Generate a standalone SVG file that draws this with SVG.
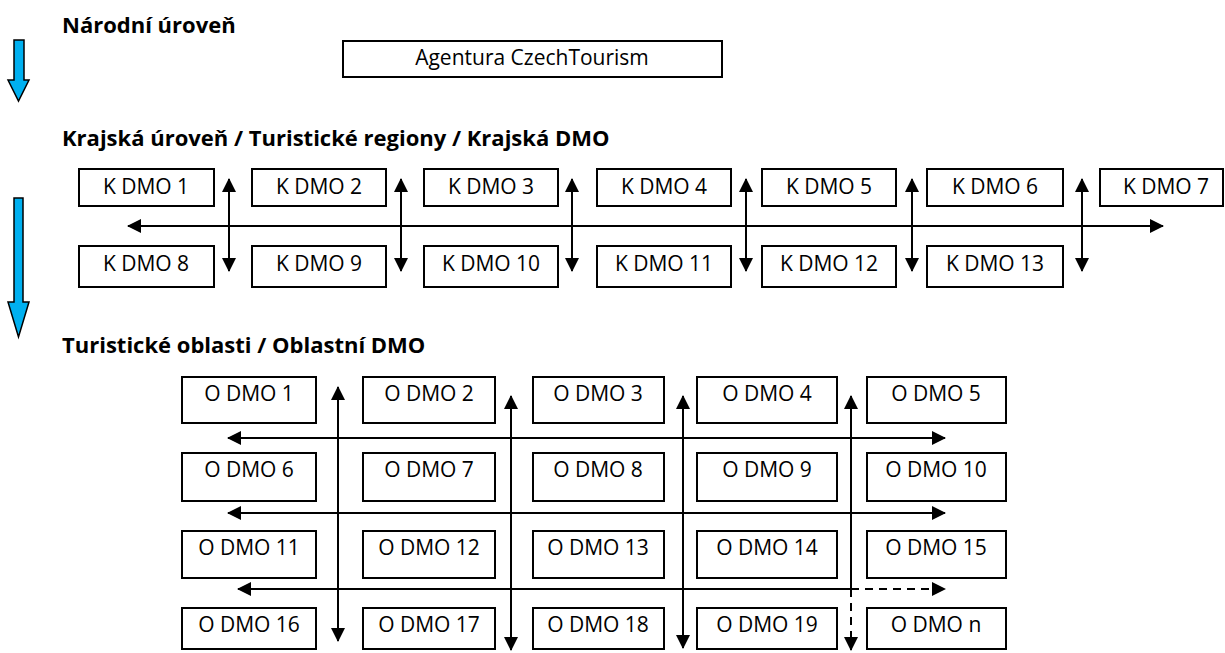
<svg xmlns="http://www.w3.org/2000/svg" width="1225" height="653" viewBox="0 0 1225 653">
<style>
.h{font-family:"Open Sans","Liberation Sans",sans-serif;font-weight:bold;font-size:22px;fill:#000}
.t{font-family:"Open Sans","Liberation Sans",sans-serif;font-size:21px;fill:#000;text-anchor:middle}
.b{fill:#fff;stroke:#000;stroke-width:2}
.c{fill:none;stroke:#000;stroke-width:2}
.d{fill:none;stroke:#000;stroke-width:2;stroke-dasharray:8 6}
.blue{fill:#00B0F0;stroke:#000;stroke-width:1.5}
</style>
<defs>
<marker id="a" viewBox="0 0 14 14" refX="13" refY="7" markerWidth="14" markerHeight="14" markerUnits="userSpaceOnUse" orient="auto-start-reverse">
<path d="M0,0 L14,7 L0,14 z" fill="#000"/>
</marker>
</defs>
<rect width="1225" height="653" fill="#fff"/>
<g id="headings">
<text class="h" x="62" y="33">Národní úroveň</text>
<text class="h" x="62" y="146">Krajská úroveň / Turistické regiony / Krajská DMO</text>
<text class="h" x="62" y="353">Turistické oblasti / Oblastní DMO</text>
</g>
<g id="level-arrows">
<path class="blue" d="M14,40 H24 V80 H29 L18.5,101 L8,80 H14 Z"/>
<path class="blue" d="M14,198 H23 V302 H29 L18.5,337 L8,302 H14 Z"/>
</g>
<g id="czechtourism"><rect class="b" x="343" y="41" width="379" height="36"/><text class="t" x="532" y="65">Agentura CzechTourism</text></g>
<g id="kdmo1"><rect class="b" x="79" y="169" width="135" height="37"/><text class="t" x="146" y="194">K DMO 1</text></g>
<g id="kdmo2"><rect class="b" x="252" y="169" width="134" height="37"/><text class="t" x="319" y="194">K DMO 2</text></g>
<g id="kdmo3"><rect class="b" x="424" y="169" width="134" height="37"/><text class="t" x="491" y="194">K DMO 3</text></g>
<g id="kdmo4"><rect class="b" x="597" y="169" width="134" height="37"/><text class="t" x="664" y="194">K DMO 4</text></g>
<g id="kdmo5"><rect class="b" x="762" y="169" width="134" height="37"/><text class="t" x="829" y="194">K DMO 5</text></g>
<g id="kdmo6"><rect class="b" x="927" y="169" width="136" height="37"/><text class="t" x="995" y="194">K DMO 6</text></g>
<g id="kdmo7"><rect class="b" x="1100" y="169" width="123" height="37"/><text class="t" x="1166" y="194">K DMO 7</text></g>
<g id="kdmo8"><rect class="b" x="79" y="246" width="135" height="41"/><text class="t" x="146" y="271">K DMO 8</text></g>
<g id="kdmo9"><rect class="b" x="252" y="246" width="134" height="41"/><text class="t" x="319" y="271">K DMO 9</text></g>
<g id="kdmo10"><rect class="b" x="424" y="246" width="134" height="41"/><text class="t" x="491" y="271">K DMO 10</text></g>
<g id="kdmo11"><rect class="b" x="597" y="246" width="134" height="41"/><text class="t" x="664" y="271">K DMO 11</text></g>
<g id="kdmo12"><rect class="b" x="762" y="246" width="134" height="41"/><text class="t" x="829" y="271">K DMO 12</text></g>
<g id="kdmo13"><rect class="b" x="927" y="246" width="136" height="41"/><text class="t" x="995" y="271">K DMO 13</text></g>
<g id="odmo1"><rect class="b" x="182" y="377" width="134" height="46"/><text class="t" x="249" y="401">O DMO 1</text></g>
<g id="odmo2"><rect class="b" x="363" y="377" width="132" height="46"/><text class="t" x="429" y="401">O DMO 2</text></g>
<g id="odmo3"><rect class="b" x="533" y="377" width="131" height="46"/><text class="t" x="598" y="401">O DMO 3</text></g>
<g id="odmo4"><rect class="b" x="697" y="377" width="140" height="46"/><text class="t" x="767" y="401">O DMO 4</text></g>
<g id="odmo5"><rect class="b" x="867" y="377" width="139" height="46"/><text class="t" x="936" y="401">O DMO 5</text></g>
<g id="odmo6"><rect class="b" x="182" y="453" width="134" height="48"/><text class="t" x="249" y="477">O DMO 6</text></g>
<g id="odmo7"><rect class="b" x="363" y="453" width="132" height="48"/><text class="t" x="429" y="477">O DMO 7</text></g>
<g id="odmo8"><rect class="b" x="533" y="453" width="131" height="48"/><text class="t" x="598" y="477">O DMO 8</text></g>
<g id="odmo9"><rect class="b" x="697" y="453" width="140" height="48"/><text class="t" x="767" y="477">O DMO 9</text></g>
<g id="odmo10"><rect class="b" x="867" y="453" width="139" height="48"/><text class="t" x="936" y="477">O DMO 10</text></g>
<g id="odmo11"><rect class="b" x="182" y="531" width="134" height="47"/><text class="t" x="249" y="555">O DMO 11</text></g>
<g id="odmo12"><rect class="b" x="363" y="531" width="132" height="47"/><text class="t" x="429" y="555">O DMO 12</text></g>
<g id="odmo13"><rect class="b" x="533" y="531" width="131" height="47"/><text class="t" x="598" y="555">O DMO 13</text></g>
<g id="odmo14"><rect class="b" x="697" y="531" width="140" height="47"/><text class="t" x="767" y="555">O DMO 14</text></g>
<g id="odmo15"><rect class="b" x="867" y="531" width="139" height="47"/><text class="t" x="936" y="555">O DMO 15</text></g>
<g id="odmo16"><rect class="b" x="182" y="608" width="134" height="41"/><text class="t" x="249" y="632">O DMO 16</text></g>
<g id="odmo17"><rect class="b" x="363" y="608" width="132" height="41"/><text class="t" x="429" y="632">O DMO 17</text></g>
<g id="odmo18"><rect class="b" x="533" y="608" width="131" height="41"/><text class="t" x="598" y="632">O DMO 18</text></g>
<g id="odmo19"><rect class="b" x="697" y="608" width="140" height="41"/><text class="t" x="767" y="632">O DMO 19</text></g>
<g id="odmon"><rect class="b" x="867" y="608" width="139" height="41"/><text class="t" x="936" y="632">O DMO n</text></g>
<g id="connectors">
<line class="c" x1="128" y1="226" x2="1163" y2="226" marker-start="url(#a)" marker-end="url(#a)"/>
<line class="c" x1="229" y1="179" x2="229" y2="271" marker-start="url(#a)" marker-end="url(#a)"/>
<line class="c" x1="401" y1="179" x2="401" y2="271" marker-start="url(#a)" marker-end="url(#a)"/>
<line class="c" x1="572" y1="179" x2="572" y2="271" marker-start="url(#a)" marker-end="url(#a)"/>
<line class="c" x1="746" y1="179" x2="746" y2="271" marker-start="url(#a)" marker-end="url(#a)"/>
<line class="c" x1="912" y1="179" x2="912" y2="271" marker-start="url(#a)" marker-end="url(#a)"/>
<line class="c" x1="1082" y1="179" x2="1082" y2="271" marker-start="url(#a)" marker-end="url(#a)"/>
<line class="c" x1="228" y1="438" x2="945" y2="438" marker-start="url(#a)" marker-end="url(#a)"/>
<line class="c" x1="228" y1="513" x2="945" y2="513" marker-start="url(#a)" marker-end="url(#a)"/>
<line class="c" x1="238" y1="589" x2="851" y2="589" marker-start="url(#a)"/>
<line class="d" x1="851" y1="589" x2="945" y2="589" marker-end="url(#a)"/>
<line class="c" x1="338" y1="387" x2="338" y2="641" marker-start="url(#a)" marker-end="url(#a)"/>
<line class="c" x1="511" y1="396" x2="511" y2="650" marker-start="url(#a)" marker-end="url(#a)"/>
<line class="c" x1="683" y1="396" x2="683" y2="648" marker-start="url(#a)" marker-end="url(#a)"/>
<line class="c" x1="851" y1="396" x2="851" y2="589" marker-start="url(#a)"/>
<line class="d" x1="851" y1="589" x2="851" y2="650" marker-end="url(#a)"/>
</g>
</svg>
